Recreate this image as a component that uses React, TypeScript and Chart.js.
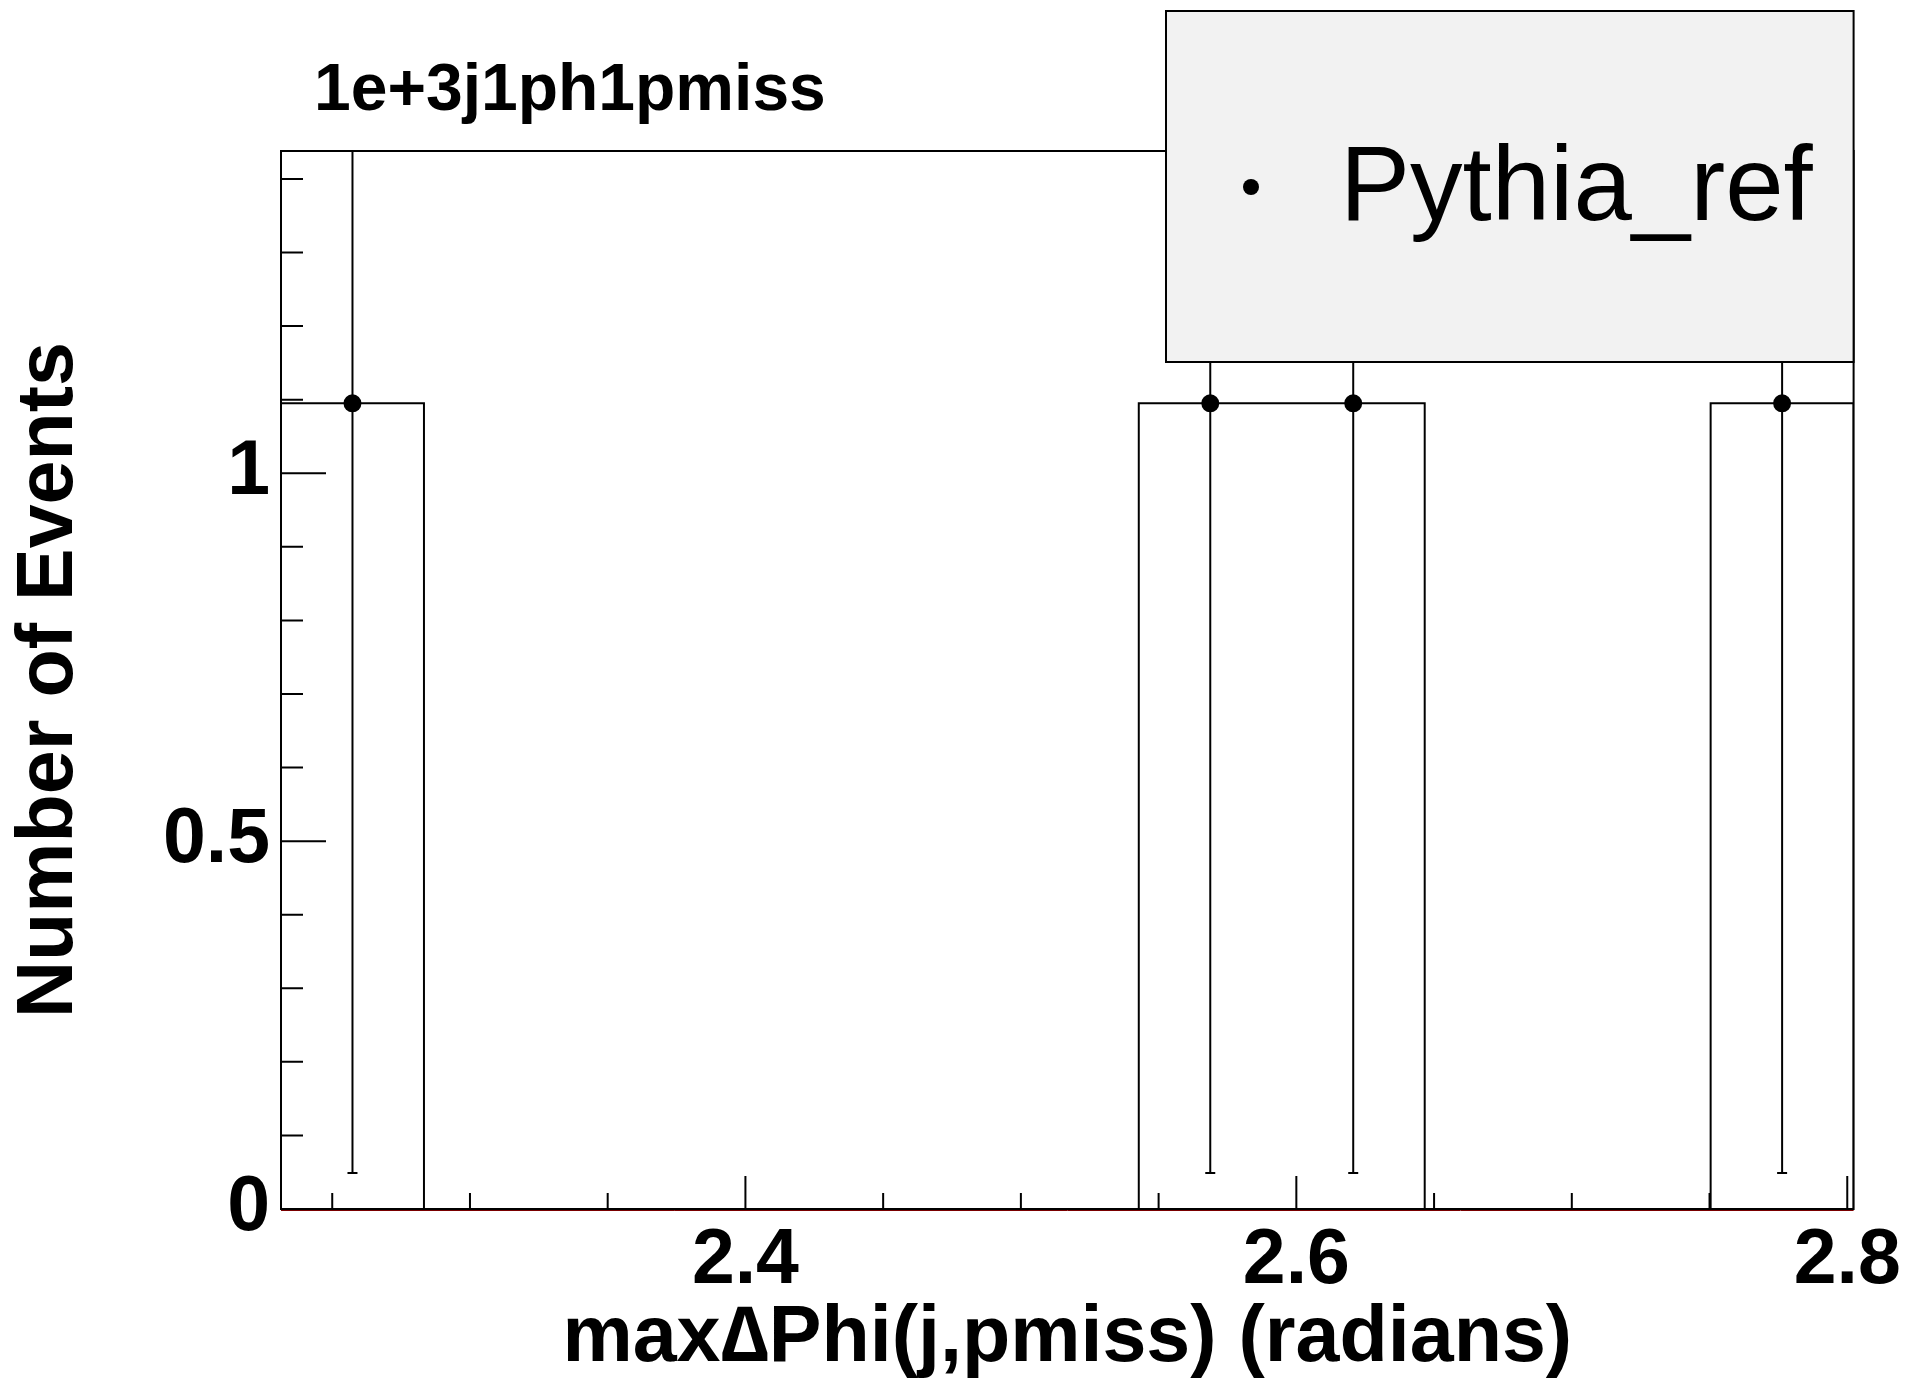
import React, { useEffect, useRef } from 'react';
import { Chart, registerables } from 'chart.js';

Chart.register(...registerables);

// ---- data ----
const binEdges = [2.2314, 2.2833, 2.3352, 2.3871, 2.439, 2.4909, 2.5428, 2.5947, 2.6466, 2.6985, 2.7504, 2.8023];
const binCounts = [1.095, 0, 0, 0, 0, 0, 1.095, 1.095, 0, 0, 1.095];
const binErrors = [1.046, 0, 0, 0, 0, 0, 1.046, 1.046, 0, 0, 1.046];
const xRange = [2.2314, 2.8023];
const yRange = [0, 1.438];
const xTickLabels = ['2.4', '2.6', '2.8'];
const yTickLabels = ['0', '0.5', '1'];
const histTitle = '1e+3j1ph1pmiss';
const xTitle = 'max\u2206Phi(j,pmiss) (radians)';
const yTitle = 'Number of Events';
const legendLabel = 'Pythia_ref';

const FONT = '"Liberation Sans", Arial, Helvetica, sans-serif';

const fmt = (v: number) => String(Number(v.toFixed(3)));

const rootPlugin = {
  id: 'rootStyle',
  beforeDatasetsDraw(chart: any) {
    const { ctx, chartArea: a, scales } = chart;
    const xs = scales.x;
    const ys = scales.y;
    ctx.save();
    ctx.strokeStyle = '#000';
    ctx.lineWidth = 2;
    // tick marks drawn inside the frame
    ctx.beginPath();
    for (const t of ys.ticks) {
      const py = ys.getPixelForValue(t.value);
      const len = t.label ? 45 : 22;
      ctx.moveTo(a.left, py);
      ctx.lineTo(a.left + len, py);
    }
    for (const t of xs.ticks) {
      const px = xs.getPixelForValue(t.value);
      const len = t.label ? 33 : 16;
      ctx.moveTo(px, a.bottom);
      ctx.lineTo(px, a.bottom - len);
    }
    ctx.stroke();
    // error bars, clipped to the frame
    ctx.beginPath();
    ctx.rect(a.left, a.top, a.right - a.left, a.bottom - a.top);
    ctx.clip();
    ctx.beginPath();
    binCounts.forEach((c, i) => {
      if (c <= 0) return;
      const cx = xs.getPixelForValue((binEdges[i] + binEdges[i + 1]) / 2);
      const lo = ys.getPixelForValue(c - binErrors[i]);
      const hi = ys.getPixelForValue(c + binErrors[i]);
      ctx.moveTo(cx, lo);
      ctx.lineTo(cx, hi);
      ctx.moveTo(cx - 5, lo);
      ctx.lineTo(cx + 5, lo);
      ctx.moveTo(cx - 5, hi);
      ctx.lineTo(cx + 5, hi);
    });
    ctx.stroke();
    ctx.restore();
  },
  afterDatasetsDraw(chart: any) {
    const { ctx, chartArea: a, scales } = chart;
    const ys = scales.y;
    ctx.save();
    // frame
    ctx.strokeStyle = '#000';
    ctx.lineWidth = 2;
    ctx.strokeRect(a.left, a.top, a.right - a.left, a.bottom - a.top);
    // thin dark red line on the zero level
    const y0 = ys.getPixelForValue(0) + 1.5;
    ctx.strokeStyle = '#7a0000';
    ctx.lineWidth = 1;
    ctx.beginPath();
    ctx.moveTo(a.left, y0);
    ctx.lineTo(a.right, y0);
    ctx.stroke();
    // legend box
    const lx = 1166, ly = 11, lw = a.right - 1166, lh = 351;
    ctx.fillStyle = '#f2f2f2';
    ctx.fillRect(lx, ly, lw, lh);
    ctx.strokeStyle = '#000';
    ctx.lineWidth = 2;
    ctx.strokeRect(lx, ly, lw, lh);
    ctx.fillStyle = '#000';
    ctx.beginPath();
    ctx.arc(1251, 187, 8, 0, Math.PI * 2);
    ctx.fill();
    ctx.font = `105px ${FONT}`;
    ctx.textAlign = 'left';
    ctx.textBaseline = 'alphabetic';
    ctx.fillText(legendLabel, 1340, 220);
    // histogram title
    ctx.font = `bold 66px ${FONT}`;
    ctx.fillText(histTitle, 314, 110);
    ctx.restore();
  },
};

export default function App() {
  const ref = useRef<HTMLCanvasElement>(null);

  useEffect(() => {
    const canvas = ref.current;
    if (!canvas) return;

    const stepPoints: { x: number; y: number }[] = [{ x: binEdges[0], y: 0 }];
    binCounts.forEach((c, i) => stepPoints.push({ x: binEdges[i], y: c }));
    stepPoints.push({ x: binEdges[binEdges.length - 1], y: 0 });

    const markerPoints = binCounts
      .map((c, i) => ({ x: (binEdges[i] + binEdges[i + 1]) / 2, y: c }))
      .filter((p) => p.y > 0);

    const chart = new Chart(canvas, {
      type: 'line',
      data: {
        datasets: [
          {
            label: legendLabel,
            data: markerPoints,
            showLine: false,
            pointRadius: 9,
            pointHoverRadius: 9,
            pointBackgroundColor: '#000',
            pointBorderWidth: 0,
            borderColor: '#000',
            order: 1,
          },
          {
            label: 'hist',
            data: stepPoints,
            stepped: 'before',
            borderColor: '#000',
            borderWidth: 2,
            pointRadius: 0,
            fill: false,
            order: 2,
          },
        ],
      },
      options: {
        animation: false,
        responsive: false,
        devicePixelRatio: 1,
        events: [],
        layout: { padding: { left: 0, top: 151, right: 54, bottom: 0 } },
        plugins: {
          legend: { display: false },
          tooltip: { enabled: false },
          title: { display: false },
        },
        scales: {
          x: {
            type: 'linear',
            min: xRange[0],
            max: xRange[1],
            afterFit: (s: any) => {
              s.height = 186;
            },
            grid: { display: false, drawTicks: false },
            border: { display: false },
            ticks: {
              stepSize: 0.05,
              includeBounds: false,
              autoSkip: false,
              maxRotation: 0,
              minRotation: 0,
              padding: 7,
              color: '#000',
              font: { family: FONT, weight: 'bold', size: 77 },
              callback: (v: any) => (xTickLabels.includes(fmt(Number(v))) ? fmt(Number(v)) : ''),
            },
            title: {
              display: true,
              text: xTitle,
              color: '#000',
              padding: 8,
              font: { family: FONT, weight: 'bold', size: 79 },
            },
          },
          y: {
            type: 'linear',
            min: yRange[0],
            max: yRange[1],
            afterFit: (s: any) => {
              s.width = 281;
            },
            grid: { display: false, drawTicks: false },
            border: { display: false },
            ticks: {
              stepSize: 0.1,
              includeBounds: false,
              autoSkip: false,
              padding: 11,
              color: '#000',
              font: { family: FONT, weight: 'bold', size: 77 },
              callback: (v: any) => (yTickLabels.includes(fmt(Number(v))) ? fmt(Number(v)) : ''),
            },
            title: {
              display: true,
              text: yTitle,
              color: '#000',
              padding: 3,
              font: { family: FONT, weight: 'bold', size: 79 },
            },
          },
        },
      },
      plugins: [rootPlugin],
    } as any);

    return () => chart.destroy();
  }, []);

  return (
    <div style={{ position: 'fixed', left: 0, top: 0, width: 1908, height: 1395, background: '#fff' }}>
      <canvas ref={ref} width={1908} height={1395} style={{ display: 'block', width: 1908, height: 1395 }} />
    </div>
  );
}
